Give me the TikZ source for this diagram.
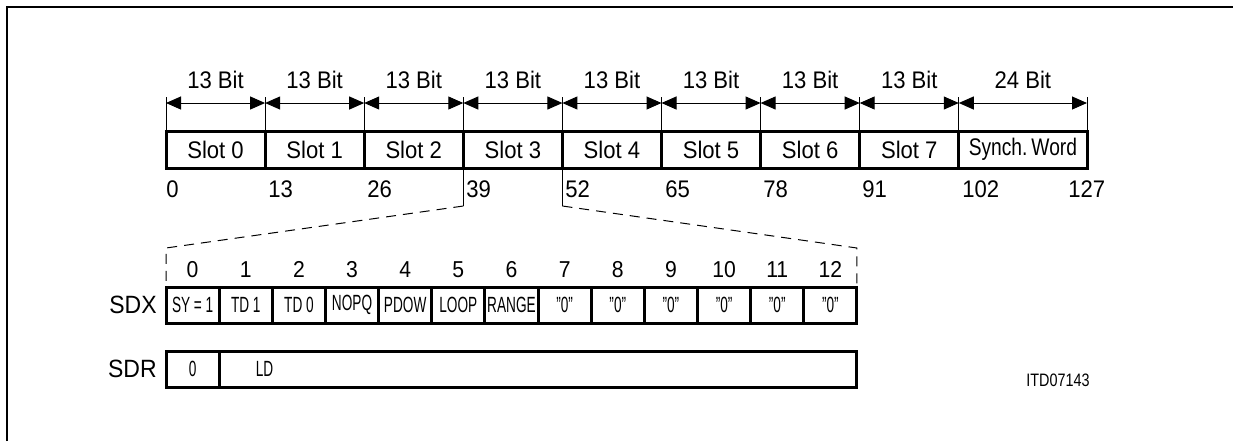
\documentclass[tikz,border=0pt]{standalone}
\usepackage{fontspec}
\setmainfont{Liberation Sans}[FakeStretch=0.92]
\newfontfamily\narrowfont{Liberation Sans}[FakeStretch=0.8]
\newfontfamily\cellfont{Liberation Sans}[FakeStretch=0.62]
\usetikzlibrary{arrows.meta}
\begin{document}
\begin{tikzpicture}[x=0.5pt,y=-0.5pt,
        slot/.style={draw,line width=1.5pt,minimum width=49.55pt,minimum height=18.5pt,
            inner sep=0pt,outer sep=0pt,font=\fontsize{12}{12}\selectfont},
        cell/.style={draw,line width=1.5pt,minimum width=26.58pt,minimum height=18pt,
            inner sep=0pt,outer sep=0pt,font=\cellfont\fontsize{11}{11}\selectfont},
        lbl/.style={inner sep=0pt,font=\fontsize{12}{12}\selectfont},
        dim/.style={{Triangle[length=7.5pt,width=6.5pt]}-{Triangle[length=7.5pt,width=6.5pt]},
            line width=0.5pt},
        zoom/.style={dash pattern=on 5pt off 3.5pt,line width=0.5pt}]
    \useasboundingbox (0,0) rectangle (1233,441);
    \draw[line width=1pt] (7,441) -- (7,7) -- (1233,7);
    % frame of 8 slots and the synch word
    \foreach \i in {0,...,7} {
        \node[slot] (s\i) at ({215.55+99.1*\i},149.5) {Slot \i};
        \draw[line width=0.5pt] (s\i.north west) -- ++(0,-34);
        \draw[dim] ([yshift=14pt]s\i.north west) -- ([yshift=14pt]s\i.north east)
            node[lbl,midway,above=7pt] {13 Bit};
    }
    \node[slot,minimum width=64.1pt,font=\narrowfont\fontsize{12}{12}\selectfont]
        (sw) at (1022.9,149.5) {Synch.\,Word};
    \draw[line width=0.5pt] (sw.north west) -- ++(0,-34);
    \draw[line width=0.5pt] (sw.north east) -- ++(0,-34);
    \draw[dim] ([yshift=14pt]sw.north west) -- ([yshift=14pt]sw.north east)
        node[lbl,midway,above=7pt] {24 Bit};
    \foreach \t/\x in {0/166,13/268,26/367,39/466,52/565,65/665,78/763,91/862,102/962,127/1068}
        \node[lbl,anchor=west] (n\t) at (\x,189) {\t};
    % SDX channel
    \foreach [count=\i from 0] \t in {SY\,=\,1,TD\,1,TD\,0,NOPQ,PDOW,LOOP,RANGE,%
            ”0”,”0”,”0”,”0”,”0”,”0”} {
        \node[cell] (x\i) at ({192.6+53.15*\i},305) {\t};
        \node[lbl,anchor=south,font=\fontsize{11.5}{11.5}\selectfont] (b\i)
            at ([yshift=4.5pt]x\i.north) {\i};
    }
    \node[lbl,anchor=east,font=\fontsize{12.5}{12.5}\selectfont] (sdx) at ([xshift=-4.5pt]x0.west) {SDX};
    \draw[line width=0.5pt] (s3.south west) -- ++(0,38) coordinate (a1);
    \draw[line width=0.5pt] (s4.south west) -- ++(0,38) coordinate (a2);
    \draw[zoom] (a1) -- ([yshift=19.5pt]x0.north west) -- (x0.north west);
    \draw[zoom] (a2) -- ([yshift=19.5pt]x12.north east) -- (x12.north east);
    % SDR channel
    \node[cell] (r0) at (192.6,369) {0};
    \node[cell,minimum width=318.9pt,anchor=west] (rld) at (r0.east) {};
    \node[cell,draw=none,anchor=west] (ld) at ([xshift=9.4pt]rld.west) {LD};
    \node[lbl,anchor=east,font=\fontsize{12.5}{12.5}\selectfont] (sdr) at ([xshift=-4.5pt]r0.west) {SDR};
    \node[lbl,font=\narrowfont\fontsize{9}{9}\selectfont] (itd) at (1058,380) {ITD07143};
\end{tikzpicture}
\end{document}
